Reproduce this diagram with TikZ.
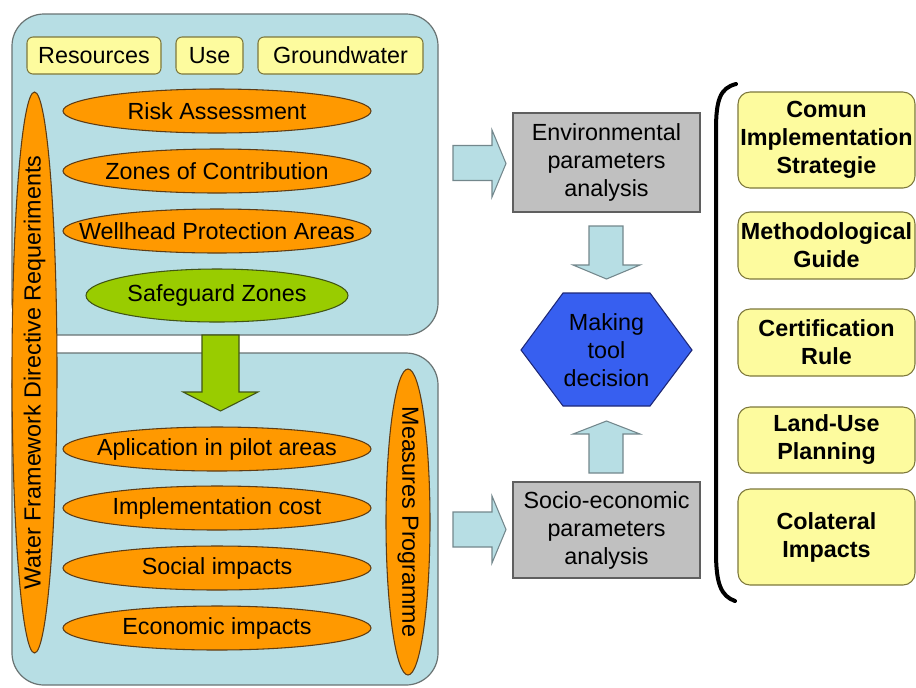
\documentclass[tikz,border=0pt]{standalone}
\usepackage{fontspec}
\setmainfont{Liberation Sans}
\usetikzlibrary{shapes.geometric}
\definecolor{panelblue}{RGB}{183,222,228}
\definecolor{panelline}{RGB}{105,115,115}
\definecolor{paleyellow}{RGB}{253,251,158}
\definecolor{yellowline}{RGB}{125,120,60}
\definecolor{orangefill}{RGB}{255,153,0}
\definecolor{orangeline}{RGB}{95,60,20}
\definecolor{greenfill}{RGB}{153,204,0}
\definecolor{greenline}{RGB}{65,85,20}
\definecolor{grayfill}{RGB}{192,192,192}
\definecolor{grayline}{RGB}{95,95,95}
\definecolor{hexblue}{RGB}{55,95,240}
\definecolor{hexline}{RGB}{30,40,120}
\definecolor{arrowline}{RGB}{115,135,140}
\newcommand{\txt}{\fontsize{17.5}{21}\selectfont}
\begin{document}
\begin{tikzpicture}[x=0.75pt,y=-0.75pt,
  panel/.style={draw=panelline, fill=panelblue, line width=0.9pt, rounded corners=24pt},
  tag/.style={draw=yellowline, fill=paleyellow, line width=0.8pt, rounded corners=4.5pt,
    minimum height=27.75pt, inner sep=0pt, font=\txt},
  oval/.style={ellipse, draw=orangeline, fill=orangefill, line width=0.8pt,
    minimum width=231pt, minimum height=33pt, inner sep=0pt,
    label={[font=\txt, inner sep=0pt]center:#1}},
  greenoval/.style={ellipse, draw=greenline, fill=greenfill, line width=0.8pt,
    minimum width=196.5pt, minimum height=39.75pt, inner sep=0pt,
    label={[font=\txt, inner sep=0pt]center:#1}},
  graybox/.style={draw=grayline, fill=grayfill, line width=0.8pt, minimum width=140.25pt,
    inner sep=0pt, align=center, font=\txt},
  result/.style={draw=yellowline, fill=paleyellow, line width=0.8pt, rounded corners=9pt,
    minimum width=132.75pt, inner sep=0pt, align=center, font=\txt\bfseries},
  bluearrow/.style={draw=arrowline, fill=panelblue, line width=0.8pt},
  greenarrow/.style={draw=greenline, fill=greenfill, line width=0.8pt},
  hexagon/.style={draw=hexline, fill=hexblue, line width=0.8pt},
  bracket/.style={draw=black, line width=3pt, line cap=round}]
\useasboundingbox (0,0) rectangle (916,687);

% the two requirement panels
\path[panel] (12,14) rectangle (438,335);
\path[panel] (12,353) rectangle (438,685);

% directive requirements, running along both panels
\node[ellipse, draw=orangeline, fill=orangefill, line width=0.8pt, inner sep=0pt,
  minimum width=33.75pt, minimum height=420.75pt,
  label={[font=\txt, inner sep=0pt, rotate=90]center:Water Framework Directive Requeriments}]
  (wfd) at (34.5,372.5) {};

% headings of the upper panel
\node[tag, minimum width=100.5pt] (res) at (94,55.5) {Resources};
\node[tag, minimum width=50.25pt] (use) at (209.5,55.5) {Use};
\node[tag, minimum width=123.75pt] (gw) at (340.5,55.5) {Groundwater};

% protection criteria
\node[oval=Risk Assessment] (risk) at (217,111) {};
\node[oval=Zones of Contribution] (zones) at (217,171) {};
\node[oval=Wellhead Protection Areas] (well) at (217,231) {};
\node[greenoval=Safeguard Zones] (safe) at (217,295.5) {};

% from the upper panel to the lower one
\path[greenarrow] (202,335) -- (239,335) -- (239,392) -- (258,392) -- (220.5,411)
  -- (183,392) -- (202,392) -- cycle;

% measures
\node[oval=Aplication in pilot areas] (pilot) at (217,449) {};
\node[oval=Implementation cost] (cost) at (217,508) {};
\node[oval=Social impacts] (social) at (217,568) {};
\node[oval=Economic impacts] (econ) at (217,628) {};
\node[ellipse, draw=orangeline, fill=orangefill, line width=0.8pt, inner sep=0pt,
  minimum width=33pt, minimum height=229.5pt,
  label={[font=\txt, inner sep=0pt, rotate=-90]center:Measures Programme}]
  (mp) at (408,522) {};

% analyses
\node[graybox, minimum height=74.25pt] (env) at (606.5,162.5)
  {Environmental\\parameters\\analysis};
\node[graybox, minimum height=72pt] (socio) at (606.5,530)
  {Socio-economic\\parameters\\analysis};

% decision hexagon
\path[hexagon] (521,350) -- (563,293) -- (650,293) -- (692,350) -- (650,406) -- (563,406) -- cycle;
\node[align=center, font=\txt, inner sep=0pt] (dec) at (606.5,350) {Making\\tool\\decision};

% block arrows
\path[bluearrow] (453,145.5) -- (492,145.5) -- (492,130) -- (506,163.5) -- (492,197)
  -- (492,180.5) -- (453,180.5) -- cycle;
\path[bluearrow] (453,512) -- (492,512) -- (492,496) -- (506,529.5) -- (492,563)
  -- (492,547) -- (453,547) -- cycle;
\path[bluearrow] (589,226) -- (623,226) -- (623,265) -- (640,265) -- (606.5,279)
  -- (573,265) -- (589,265) -- cycle;
\path[bluearrow] (589,473) -- (623,473) -- (623,434) -- (640,434) -- (606.5,421)
  -- (573,434) -- (589,434) -- cycle;

% bracket grouping the outcomes
\path[bracket] (736,84) .. controls (720,88) and (716,100) .. (716,130) -- (716,552)
  .. controls (716,584) and (721,596) .. (735,601);

% outcomes
\node[result, minimum height=72pt] (cis) at (826.5,140) {Comun\\Implementation\\Strategie};
\node[result, minimum height=50.25pt] (guide) at (826.5,245.5) {Methodological\\Guide};
\node[result, minimum height=50.25pt] (cert) at (826.5,342.5) {Certification\\Rule};
\node[result, minimum height=49.5pt] (land) at (826.5,440) {Land-Use\\Planning};
\node[result, minimum height=72pt] (col) at (826.5,537) {Colateral\\Impacts};
\end{tikzpicture}
\end{document}
